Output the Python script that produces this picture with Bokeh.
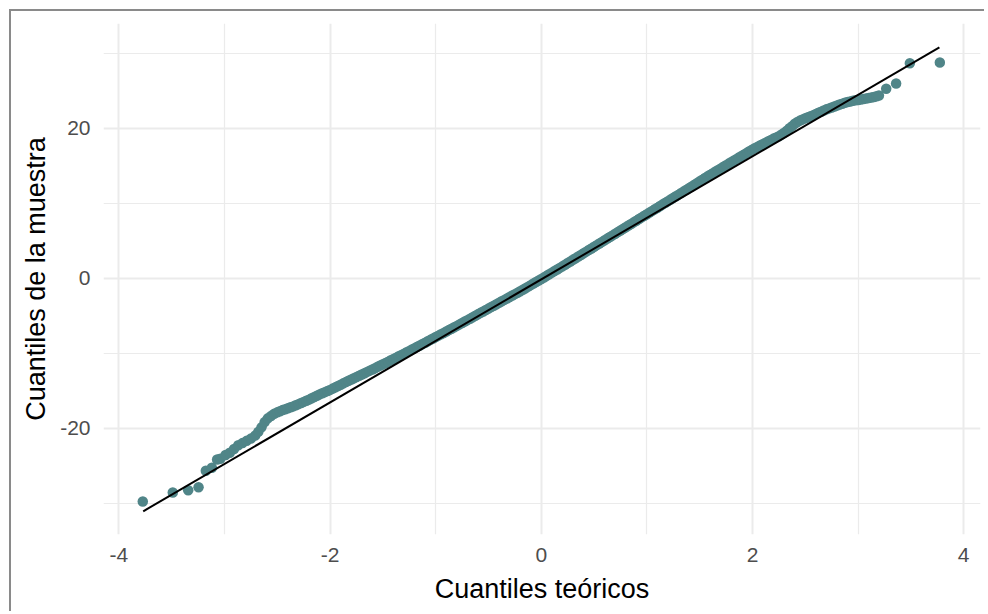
from bokeh.plotting import figure
from bokeh.models import Range1d, FixedTicker, ColumnDataSource
from bokeh.embed import file_html
from bokeh.resources import INLINE

# Theoretical quantiles (x) and sample quantiles (y)
theoretical = [
    -3.774, -3.49, -3.344, -3.246, -3.177, -3.12, -3.07, -3.04, -2.99, -2.95,
    -2.91, -2.87, -2.83, -2.79, -2.75, -2.71, -2.68, -2.65, -2.62, -2.59,
    -2.56, -2.53,
    -2.500, -2.475, -2.450, -2.425, -2.400, -2.375, -2.350, -2.325, -2.300, -2.275,
    -2.250, -2.225, -2.200, -2.175, -2.150, -2.125, -2.100, -2.075, -2.050, -2.025,
    -2.000, -1.975, -1.950, -1.925, -1.900, -1.875, -1.850, -1.825, -1.800, -1.775,
    -1.750, -1.725, -1.700, -1.675, -1.650, -1.625, -1.600, -1.575, -1.550, -1.525,
    -1.500, -1.475, -1.450, -1.425, -1.400, -1.375, -1.350, -1.325, -1.300, -1.275,
    -1.250, -1.225, -1.200, -1.175, -1.150, -1.125, -1.100, -1.075, -1.050, -1.025,
    -1.000, -0.975, -0.950, -0.925, -0.900, -0.875, -0.850, -0.825, -0.800, -0.775,
    -0.750, -0.725, -0.700, -0.675, -0.650, -0.625, -0.600, -0.575, -0.550, -0.525,
    -0.500, -0.475, -0.450, -0.425, -0.400, -0.375, -0.350, -0.325, -0.300, -0.275,
    -0.250, -0.225, -0.200, -0.175, -0.150, -0.125, -0.100, -0.075, -0.050, -0.025,
    0.000, 0.025, 0.050, 0.075, 0.100, 0.125, 0.150, 0.175, 0.200, 0.225,
    0.250, 0.275, 0.300, 0.325, 0.350, 0.375, 0.400, 0.425, 0.450, 0.475,
    0.500, 0.525, 0.550, 0.575, 0.600, 0.625, 0.650, 0.675, 0.700, 0.725,
    0.750, 0.775, 0.800, 0.825, 0.850, 0.875, 0.900, 0.925, 0.950, 0.975,
    1.000, 1.025, 1.050, 1.075, 1.100, 1.125, 1.150, 1.175, 1.200, 1.225,
    1.250, 1.275, 1.300, 1.325, 1.350, 1.375, 1.400, 1.425, 1.450, 1.475,
    1.500, 1.525, 1.550, 1.575, 1.600, 1.625, 1.650, 1.675, 1.700, 1.725,
    1.750, 1.775, 1.800, 1.825, 1.850, 1.875, 1.900, 1.925, 1.950, 1.975,
    2.000, 2.025, 2.050, 2.075, 2.100, 2.125, 2.150, 2.175, 2.200, 2.225,
    2.250, 2.275, 2.300, 2.325, 2.350, 2.375, 2.400, 2.425, 2.450, 2.475,
    2.500, 2.525, 2.550, 2.575, 2.600, 2.625, 2.650, 2.675, 2.700, 2.725,
    2.750, 2.775, 2.800, 2.825, 2.850, 2.875, 2.900, 2.925, 2.950, 2.975,
    3.000, 3.025, 3.050, 3.075, 3.100, 3.125, 3.150, 3.175,
    3.197, 3.266, 3.36, 3.49, 3.774,
]
sample = [
    -29.8, -28.6, -28.3, -27.9, -25.7, -25.3, -24.2, -24.1, -23.6, -23.3,
    -22.8, -22.3, -22.0, -21.7, -21.4, -21.0, -20.5, -19.9, -19.2, -18.7,
    -18.4, -18.1,
    -17.90, -17.75, -17.60, -17.48, -17.35, -17.22, -17.10, -16.95, -16.80, -16.65,
    -16.50, -16.35, -16.20, -16.02, -15.85, -15.68, -15.50, -15.35, -15.20, -15.05,
    -14.90, -14.73, -14.56, -14.38, -14.21, -14.03, -13.86, -13.68, -13.51, -13.35,
    -13.18, -13.01, -12.84, -12.67, -12.50, -12.33, -12.17, -12.00, -11.82, -11.65,
    -11.47, -11.30, -11.13, -10.95, -10.78, -10.60, -10.42, -10.24, -10.06, -9.88,
    -9.70, -9.52, -9.34, -9.15, -8.97, -8.78, -8.60, -8.41, -8.22, -8.03,
    -7.85, -7.66, -7.48, -7.30, -7.11, -6.92, -6.73, -6.55, -6.36, -6.16,
    -5.97, -5.78, -5.59, -5.40, -5.20, -5.01, -4.82, -4.62, -4.43, -4.24,
    -4.05, -3.85, -3.66, -3.47, -3.28, -3.08, -2.89, -2.70, -2.51, -2.31,
    -2.12, -1.93, -1.74, -1.53, -1.33, -1.12, -0.92, -0.71, -0.51, -0.30,
    -0.10, 0.11, 0.32, 0.53, 0.75, 0.96, 1.17, 1.38, 1.59, 1.81,
    2.03, 2.24, 2.46, 2.68, 2.90, 3.11, 3.33, 3.55, 3.77, 3.98,
    4.20, 4.42, 4.64, 4.85, 5.07, 5.29, 5.51, 5.72, 5.94, 6.16,
    6.38, 6.59, 6.81, 7.03, 7.25, 7.46, 7.68, 7.90, 8.12, 8.33,
    8.55, 8.77, 8.99, 9.20, 9.42, 9.64, 9.86, 10.07, 10.29, 10.51,
    10.73, 10.94, 11.16, 11.38, 11.60, 11.81, 12.03, 12.25, 12.48, 12.70,
    12.93, 13.15, 13.37, 13.60, 13.82, 14.03, 14.24, 14.45, 14.66, 14.87,
    15.08, 15.30, 15.51, 15.72, 15.93, 16.14, 16.35, 16.56, 16.77, 16.98,
    17.20, 17.38, 17.56, 17.74, 17.92, 18.10, 18.28, 18.46, 18.64, 18.80,
    18.95, 19.18, 19.41, 19.70, 20.02, 20.30, 20.63, 20.85, 21.04, 21.20,
    21.35, 21.48, 21.61, 21.77, 21.92, 22.08, 22.23, 22.39, 22.54, 22.67,
    22.80, 22.93, 23.06, 23.18, 23.30, 23.42, 23.53, 23.60, 23.68, 23.74,
    23.80, 23.86, 23.92, 23.98, 24.05, 24.12, 24.20, 24.30,
    24.4, 25.3, 26.0, 28.7, 28.8,
]

# Reference (qq) line end points
line_x = [-3.77, 3.77]
line_y = [-31.1, 30.8]

x_ticks = [-4, -2, 0, 2, 4]
x_minor = [-3, -1, 1, 3]
y_ticks = [-20, 0, 20]
y_minor = [-30, -10, 10, 30]
x_labels = {-4: "-4", -2: "-2", 0: "0", 2: "2", 4: "4"}
y_labels = {-20: "-20", 0: "0", 20: "20"}

p = figure(
    width=975, height=602,
    x_range=Range1d(-4.146, 4.159), y_range=Range1d(-34.2, 34.0),
    output_backend="svg", toolbar_location=None,
    min_border_left=92, min_border_right=6, min_border_top=12, min_border_bottom=79,
)
p.styles = {
    "margin-left": "9px", "margin-top": "9px",
    "border-left": "2px solid #8a8a8a", "border-top": "2px solid #8a8a8a",
}
p.outline_line_color = None
p.background_fill_color = "white"
p.border_fill_color = "white"

src = ColumnDataSource(data=dict(x=theoretical, y=sample))
p.scatter("x", "y", source=src, size=10.5, fill_color="#508588", line_color="#508588", line_width=0)
p.line(line_x, line_y, line_color="black", line_width=2)

p.xaxis.ticker = FixedTicker(ticks=x_ticks, minor_ticks=x_minor)
p.yaxis.ticker = FixedTicker(ticks=y_ticks, minor_ticks=y_minor)
p.xaxis.major_label_overrides = x_labels
p.yaxis.major_label_overrides = y_labels

for ax in (p.xaxis[0], p.yaxis[0]):
    ax.axis_line_color = None
    ax.major_tick_line_color = None
    ax.minor_tick_line_color = None
    ax.major_tick_out = 0
    ax.major_tick_in = 0
    ax.minor_tick_out = 0
    ax.minor_tick_in = 0
    ax.major_label_text_font = "Liberation Sans"
    ax.major_label_text_font_size = "21px"
    ax.major_label_text_color = "#4d4d4d"
    ax.axis_label_text_font = "Liberation Sans"
    ax.axis_label_text_font_size = "27px"
    ax.axis_label_text_font_style = "normal"
    ax.axis_label_text_color = "black"

p.xaxis.axis_label = "Cuantiles teóricos"
p.yaxis.axis_label = "Cuantiles de la muestra"
p.xaxis.major_label_standoff = 13
p.xaxis.axis_label_standoff = 9
p.yaxis.major_label_standoff = 13
p.yaxis.axis_label_standoff = 6

for g in (p.xgrid[0], p.ygrid[0]):
    g.grid_line_color = "#ebebeb"
    g.grid_line_width = 2
    g.minor_grid_line_color = "#ebebeb"
    g.minor_grid_line_width = 1.2

open("out.html", "w").write(file_html(p, INLINE))
